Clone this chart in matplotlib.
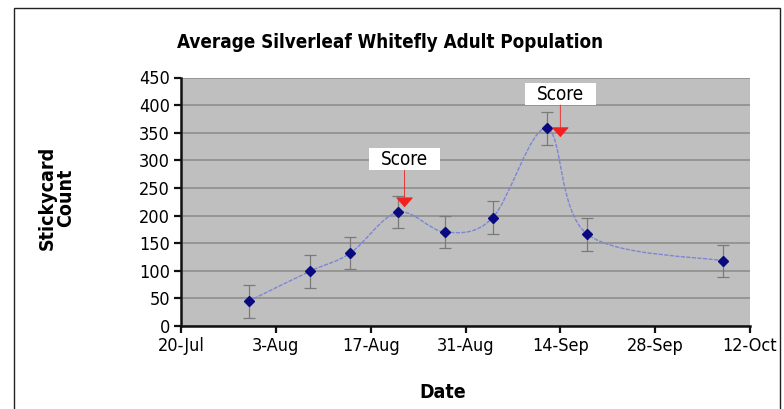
import datetime as dt

import matplotlib
matplotlib.use('Agg')
import matplotlib.dates as mdates
import matplotlib.pyplot as plt
import numpy as np
from matplotlib import font_manager
from matplotlib.patches import PathPatch, Rectangle
from matplotlib.path import Path

# ── data ─────────────────────────────────────────────────────────────────
sample_dates = ['2006-07-30', '2006-08-08', '2006-08-14', '2006-08-21',
                '2006-08-28', '2006-09-04', '2006-09-12', '2006-09-18',
                '2006-10-08']
adult_counts = [45, 99, 132, 206, 170, 196, 358, 166, 118]
count_errors = [30, 30, 29, 29, 29, 30, 30, 30, 29]

tick_dates = ['2006-07-20', '2006-08-03', '2006-08-17', '2006-08-31',
              '2006-09-14', '2006-09-28', '2006-10-12']
tick_labels = ['20-Jul', '3-Aug', '17-Aug', '31-Aug', '14-Sep', '28-Sep',
               '12-Oct']

score_dates = ['2006-08-22', '2006-09-14']
score_labels = ['Score', 'Score']

# pick a narrow face if one is around (the original uses a condensed font)
_fonts = [(f.name, f.fname) for f in font_manager.fontManager.ttflist]
narrow_reg = None
narrow_bold = None
for name, fname in _fonts:
    low = fname.lower()
    if ('narrow' in low or 'condensed' in low) and 'oblique' not in low and 'italic' not in low:
        if 'bold' in low:
            narrow_bold = narrow_bold or fname
        else:
            narrow_reg = narrow_reg or fname

reg_font = font_manager.FontProperties(fname=narrow_reg) if narrow_reg else font_manager.FontProperties(family='DejaVu Sans')
bold_font = font_manager.FontProperties(fname=narrow_bold) if narrow_bold else font_manager.FontProperties(family='DejaVu Sans', weight='bold')

plt.rcParams['hatch.color'] = '#cbcbcb'
plt.rcParams['hatch.linewidth'] = 0.8


def to_num(s):
    return mdates.date2num(dt.datetime.strptime(s, '%Y-%m-%d'))


def smooth_path(xs, ys):
    """Excel-style smoothed line: Catmull-Rom segments as cubic Beziers."""
    pts = np.column_stack([xs, ys])
    verts = [pts[0]]
    codes = [Path.MOVETO]
    n = len(pts)
    for i in range(n - 1):
        p0 = pts[max(i - 1, 0)]
        p1 = pts[i]
        p2 = pts[i + 1]
        p3 = pts[min(i + 2, n - 1)]
        verts += [p1 + (p2 - p0) / 6.0, p2 - (p3 - p1) / 6.0, p2]
        codes += [Path.CURVE4] * 3
    return Path(verts, codes)


x = np.array([to_num(d) for d in sample_dates])
y = np.array(adult_counts, dtype=float)

fig = plt.figure(figsize=(7.84, 4.09), dpi=100)

# outer frame of the chart object
fig.patches.append(Rectangle((14 / 784, -0.05), (780 - 14) / 784, 1.05 - 8 / 409,
                             transform=fig.transFigure, fill=False,
                             edgecolor='#222222', linewidth=1.0))

ax = fig.add_axes([181 / 784, 1 - 326 / 409, (750 - 181) / 784, (326 - 77.5) / 409])
ax.patch.set_facecolor('#bfbfbf')
ax.patch.set_hatch('xxx')

ax.set_ylim(0, 450)
ax.set_yticks(range(0, 451, 50))
ax.set_xlim(to_num(tick_dates[0]), to_num(tick_dates[-1]))
ax.set_xticks([to_num(d) for d in tick_dates])
ax.set_xticklabels(tick_labels)
for lab in ax.get_xticklabels() + ax.get_yticklabels():
    lab.set_fontproperties(reg_font)
    lab.set_fontsize(13)

ax.yaxis.grid(True, color='#8e8e8e', linewidth=1.2)
ax.set_axisbelow(True)

for side in ('top', 'right'):
    ax.spines[side].set_visible(False)
for side in ('left', 'bottom'):
    ax.spines[side].set_linewidth(1.8)
    ax.spines[side].set_color('#111111')
ax.tick_params(axis='both', direction='out', length=5, width=1.6,
               pad=3, color='#111111')

# smoothed connecting line
ax.add_patch(PathPatch(smooth_path(x, y), facecolor='none',
                       edgecolor='#7b86d6', linewidth=1.0,
                       linestyle=(0, (3, 1)), zorder=3))

ax.errorbar(x, y, yerr=count_errors, fmt='none', ecolor='#7a7a7a',
            elinewidth=0.9, capsize=4, capthick=0.9, zorder=4)
ax.plot(x, y, linestyle='none', marker='D', markersize=5,
        color='#0a0a80', zorder=5)

# "Score" callouts: white box plus red arrow
score_tip = [215, 342]
score_box = [302, 420]
box_w, box_h = 10.5, 40          # days, counts
for d, lab, tip, box in zip(score_dates, score_labels, score_tip, score_box):
    xd = to_num(d)
    ax.add_patch(Rectangle((xd - box_w / 2, box - box_h / 2), box_w, box_h,
                           facecolor='white', edgecolor='none', zorder=6))
    ax.text(xd, box, lab, ha='center', va='center', fontproperties=reg_font,
            fontsize=13.5, zorder=7)
    ax.annotate('', xy=(xd, tip), xytext=(xd, box - box_h / 2),
                arrowprops=dict(arrowstyle='-|>,head_length=0.45,head_width=0.4',
                                color='#f02020', linewidth=0.6,
                                mutation_scale=14, shrinkA=0, shrinkB=0),
                zorder=6)

fig.text(390 / 784, 1 - 42 / 409, 'Average Silverleaf Whitefly Adult Population',
         ha='center', va='center', fontproperties=bold_font, fontsize=13.5)
fig.text(56 / 784, 1 - 198 / 409, 'Stickycard\nCount', ha='center', va='center',
         rotation=90, fontproperties=bold_font, fontsize=14, linespacing=0.95)
fig.text(443 / 784, 1 - 392 / 409, 'Date', ha='center', va='center',
         fontproperties=bold_font, fontsize=14)

fig.savefig('out.png', dpi=100)
